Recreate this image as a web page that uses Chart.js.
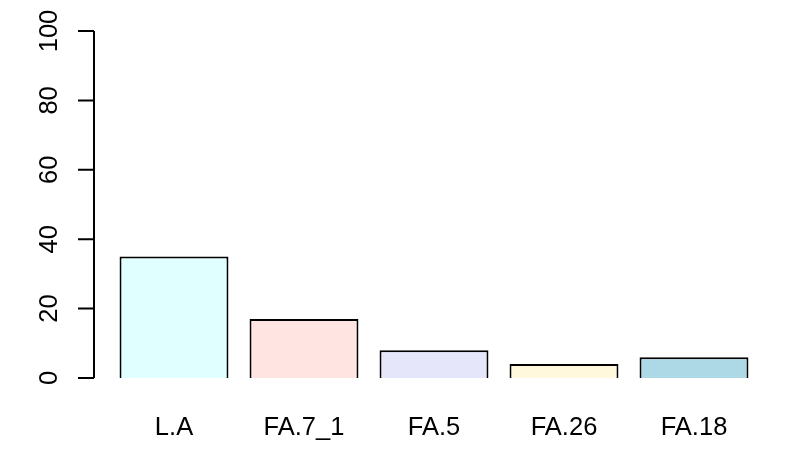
<!DOCTYPE html>
<html>
<head>
  <title>Bar plot</title>
  <script src="https://cdn.jsdelivr.net/npm/chart.js"></script>
  <style>
    body { margin: 0; padding: 0; background: #fff; }
    #wrap { width: 789px; height: 473px; }
  </style>
</head>
<body>
  <div id="wrap"><canvas id="bars"></canvas></div>
  <script>
    const categories = ['L.A', 'FA.7_1', 'FA.5', 'FA.26', 'FA.18'];
    const values = [35, 17, 8, 4, 6];
    const barColors = ['#E0FFFF', '#FFE4E1', '#E6E6FA', '#FFF8DC', '#ADD8E6'];
    const yTicks = [0, 20, 40, 60, 80, 100];

    const fontFamily = "'Liberation Sans', Arial, sans-serif";

    // R style y axis: detached line from 0 to 100, ticks outward, labels rotated
    const rAxis = {
      id: 'rAxis',
      afterDraw(chart) {
        const ctx = chart.ctx;
        const y = chart.scales.y;
        const axisX = 94;
        ctx.save();
        ctx.strokeStyle = '#000';
        ctx.lineWidth = 2;
        ctx.beginPath();
        ctx.moveTo(axisX, y.getPixelForValue(yTicks[0]));
        ctx.lineTo(axisX, y.getPixelForValue(yTicks[yTicks.length - 1]));
        yTicks.forEach(t => {
          const py = y.getPixelForValue(t);
          ctx.moveTo(axisX, py);
          ctx.lineTo(axisX - 16, py);
        });
        ctx.stroke();
        ctx.fillStyle = '#000';
        ctx.font = '25.5px ' + fontFamily;
        ctx.textAlign = 'center';
        ctx.textBaseline = 'alphabetic';
        yTicks.forEach(t => {
          const py = y.getPixelForValue(t);
          ctx.save();
          ctx.translate(57, py);
          ctx.rotate(-Math.PI / 2);
          ctx.fillText(String(t), 0, 0);
          ctx.restore();
        });
        ctx.restore();
      }
    };

    new Chart(document.getElementById('bars'), {
      type: 'bar',
      data: {
        labels: categories,
        datasets: [{
          data: values,
          backgroundColor: barColors,
          borderColor: '#000',
          borderWidth: 2,
          categoryPercentage: 1,
          barPercentage: 0.838
        }]
      },
      options: {
        responsive: true,
        maintainAspectRatio: false,
        animation: false,
        layout: { padding: { left: 109, right: 30, top: 31, bottom: 0 } },
        plugins: { legend: { display: false }, tooltip: { enabled: false } },
        scales: {
          x: {
            grid: { display: false, drawTicks: false },
            border: { display: false },
            ticks: { color: '#000', font: { size: 25.5, family: fontFamily }, padding: 35 },
            afterFit(scale) { scale.height = 95; }
          },
          y: {
            display: false,
            min: 0,
            max: 100
          }
        }
      },
      plugins: [rAxis]
    });
  </script>
</body>
</html>
